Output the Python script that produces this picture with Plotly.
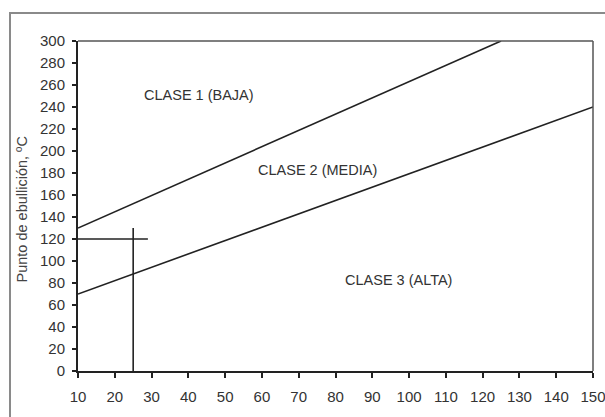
import plotly.graph_objects as go

# Data
upper_x = [10, 125]
upper_y = [130, 300]
lower_x = [10, 150]
lower_y = [70, 240]
cross_h_x = [10, 29]
cross_h_y = [120, 120]
cross_v_x = [25, 25]
cross_v_y = [0, 130]
labels = ["CLASE 1 (BAJA)", "CLASE 2 (MEDIA)", "CLASE 3 (ALTA)"]
label_x = [43, 75, 97]
label_y = [251, 183, 83]
x_ticks = list(range(10, 151, 10))
y_ticks = list(range(0, 301, 20))
y_title = "Punto de ebullición, ºC"

FONT = "Liberation Sans, Arial"
fig = go.Figure()
line_style = dict(color="#222222", width=1.6)
for xs, ys in [(upper_x, upper_y), (lower_x, lower_y), (cross_h_x, cross_h_y), (cross_v_x, cross_v_y)]:
    fig.add_trace(go.Scatter(x=xs, y=ys, mode="lines", line=line_style,
                             showlegend=False, hoverinfo="skip", cliponaxis=False))

for t, x, y in zip(labels, label_x, label_y):
    fig.add_annotation(x=x, y=y, text=t, showarrow=False,
                       font=dict(family=FONT, size=14.5, color="#333333"))

fig.add_annotation(xref="paper", yref="paper", x=(21.5 - 78) / 515, y=(371 - 210) / 330,
                   xanchor="center", yanchor="middle",
                   text=y_title, textangle=-90, showarrow=False,
                   font=dict(family=FONT, size=14.5, color="#444444"))

# plot frame top/right (grey)
fig.add_shape(type="line", xref="paper", yref="paper", x0=0, x1=1, y0=1, y1=1,
              line=dict(color="#555555", width=1.5))
fig.add_shape(type="line", xref="paper", yref="paper", x0=1, x1=1, y0=0, y1=1,
              line=dict(color="#555555", width=1.5))
# outer border
fig.add_shape(type="rect", xref="paper", yref="paper",
              x0=(10 - 78) / 515, x1=1.2, y0=-0.3, y1=(371 - 13) / 330,
              line=dict(color="#8a8a8a", width=2))

axis_common = dict(showline=True, linecolor="#222222", linewidth=2, ticks="outside",
                   tickwidth=1.5, tickcolor="#222222", showgrid=False, zeroline=False,
                   ticklabeloverflow="allow", automargin=False,
                   tickfont=dict(family=FONT, size=15, color="#333333"))
fig.update_xaxes(range=[10, 150], tickvals=x_ticks, ticklen=5, ticklabelstandoff=6, **axis_common)
fig.update_yaxes(range=[0, 300], tickvals=y_ticks, ticklen=4, ticklabelstandoff=4, **axis_common)

fig.update_layout(width=605, height=417, margin=dict(l=78, r=12, t=41, b=46, autoexpand=False),
                  plot_bgcolor="white", paper_bgcolor="white", showlegend=False)

fig.write_html("out.html", config={"displayModeBar": False},
               post_script="document.body.style.margin='0';document.body.style.overflow='hidden';")
